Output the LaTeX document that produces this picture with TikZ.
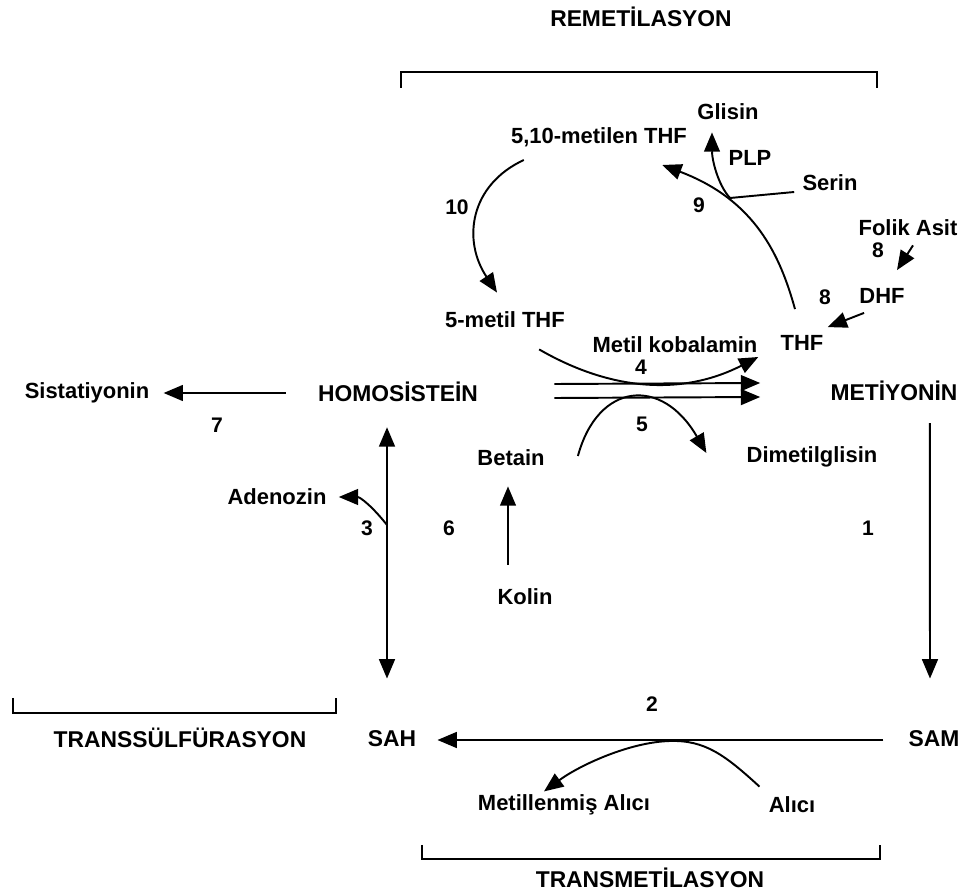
\documentclass[tikz,border=0pt]{standalone}
\usepackage{fontspec}
\setmainfont{Liberation Sans}
\usepackage{tikz}
\usetikzlibrary{arrows.meta,calc}

\begin{document}
\begin{tikzpicture}[x=0.02cm, y=-0.02cm,
		lbl/.style={font=\bfseries\fontsize{12.5}{14}\selectfont, inner sep=0pt},
		capt/.style={font=\bfseries\fontsize{13}{15}\selectfont, inner sep=0pt},
		num/.style={font=\bfseries\fontsize{12}{14}\selectfont, inner sep=0pt},
		conn/.style={line width=1.1pt, -{Triangle[length=11pt,width=9pt]}},
		twoway/.style={line width=1.1pt, {Triangle[length=11pt,width=9pt]}-{Triangle[length=11pt,width=9pt]}},
		bracket/.style={line width=1.1pt}]
		\useasboundingbox (0,0) rectangle (965,895);

		% titles and brackets
		\node[capt] (remet) at (641,17) {REMETİLASYON};
		\node[capt] (transs) at (180,738) {TRANSSÜLFÜRASYON};
		\node[capt] (transm) at (650,878) {TRANSMETİLASYON};
		\draw[bracket] (401,88) -- (401,72) -- (877,72) -- (877,88);
		\draw[bracket] (13,698) -- (13,713) -- (336,713) -- (336,698);
		\draw[bracket] (422,845) -- (422,859) -- (880,859) -- (880,845);

		% metabolites
		\node[capt] (homo) at (398,392) {HOMOSİSTEİN};
		\node[capt] (metiy) at (894,391) {METİYONİN};
		\node[capt] (sah) at (392,739) {SAH};
		\node[capt] (sam) at (934,739) {SAM};
		\node[lbl] (sist) at (87,393) {Sistatiyonin};
		\node[lbl] (glisin) at (728,112) {Glisin};
		\node[lbl] (mthfa) at (599,137) {5,10-metilen THF};
		\node[lbl] (plp) at (750,158) {PLP};
		\node[lbl] (serin) at (830,183) {Serin};
		\node[lbl] (folik) at (908,228) {Folik Asit};
		\node[lbl] (dhf) at (882,296) {DHF};
		\node[lbl] (mthfb) at (505,320) {5-metil THF};
		\node[lbl] (kobal) at (675,345) {Metil kobalamin};
		\node[lbl] (thf) at (802,343) {THF};
		\node[lbl] (betain) at (511,458) {Betain};
		\node[lbl] (dimet) at (812,457) {Dimetilglisin};
		\node[lbl] (adeno) at (277,497) {Adenozin};
		\node[lbl] (kolin) at (525,597) {Kolin};
		\node[lbl] (malici) at (564,805) {Metillenmiş Alıcı};
		\node[lbl] (alici) at (792,805) {Alıcı};

		% enzyme numbers
		\node[num] (n10) at (457,207) {10};
		\node[num] (n9) at (699,205) {9};
		\node[num] (n8a) at (878,250) {8};
		\node[num] (n8b) at (825,297) {8};
		\node[num] (n4) at (641,367) {4};
		\node[num] (n7) at (217,425) {7};
		\node[num] (n5) at (642,424) {5};
		\node[num] (n3) at (367,528) {3};
		\node[num] (n6) at (449,528) {6};
		\node[num] (n1) at (868,528) {1};
		\node[num] (n2) at (652,704) {2};

		% remetilasyon
		\draw[conn] ($(homo.east)+(76,-8)$) -- ($(metiy.west)+(-70,-8)$);
		\draw[conn] ($(homo.east)+(76,6)$) -- ($(metiy.west)+(-70,6)$);
		\draw[conn] ($(mthfb.south east)+(-26,21)$) .. controls (620,396) and (690,392) .. ($(thf.west)+(-22,14)$);
		\draw[conn] ($(betain.east)+(33,-2)$) .. controls (598,382) and (662,376) .. ($(dimet.west)+(-40,-4)$);
		\draw[conn] ($(mthfa.south west)+(13,13)$) .. controls (470,185) and (462,240) .. ($(mthfb.north)+(-8,-19)$);
		\draw[conn] ($(thf.north)+(-7,-26)$) .. controls (780,255) and (755,200) .. ($(mthfa.south east)+(-25,18)$);
		\draw[conn] ($(serin.west)+(-8,9)$) -- (730,198) .. controls (718,185) and (712,160) .. ($(glisin.south)+(-16,12)$);
		\draw[conn] ($(folik.south)+(5,9)$) -- ($(dhf.north)+(15,-18)$);
		\draw[conn] ($(dhf.south west)+(5,9)$) -- ($(thf.north east)+(4,-8)$);
		\draw[conn] ($(kolin.north)+(-17,-24)$) -- ($(betain.south)+(-3,20)$);

		% transmetilasyon
		\draw[conn] ($(metiy.south east)+(-28,22)$) -- ($(sam.north)+(-4,-52)$);
		\draw[conn] ($(sam.west)+(-25,1)$) -- ($(sah.east)+(21,1)$);
		\draw[conn] ($(alici.north west)+(-9,-10)$) .. controls (725,755) and (705,740) .. (670,741) .. controls (630,742) and (580,765) .. ($(malici.north)+(-20,-3)$);

		% transsulfurasyon
		\draw[twoway] ($(homo.south)+(-11,25)$) -- ($(sah.north)+(-5,-52)$);
		\coordinate (brthree) at (387,525);
		\draw[conn] (brthree) .. controls (372,506) and (360,497) .. ($(adeno.east)+(12,0)$);
		\draw[conn] ($(homo.west)+(-32,1)$) -- ($(sist.east)+(14,0)$);
	\end{tikzpicture}
\end{document}
